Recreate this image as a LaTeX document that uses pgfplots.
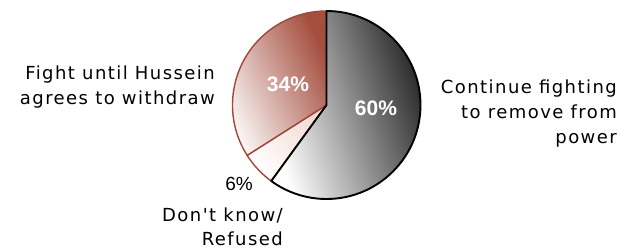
\documentclass[border=0pt]{standalone}
\usepackage{pgfplots}
\pgfplotsset{compat=1.18}
\usepackage{pgfplotstable}
\usepackage{fontspec}
\setmainfont{Liberation Sans}
\newfontfamily\labelfont[LetterSpace=8]{DejaVu Sans}
\pgfplotstableread{
label value
Continue 60
DontKnow 6
Fight 34
}\piedata
\definecolor{redborder}{HTML}{A0463A}
\definecolor{reddark}{HTML}{A44E3E}
\definecolor{redmid}{HTML}{D09A8A}
\definecolor{graydark}{HTML}{282828}
\definecolor{pinklight}{HTML}{F2DAD2}
\begin{document}
\begin{tikzpicture}
\useasboundingbox (0,0) rectangle (631pt,251pt);
\pgfplotstablegetelem{0}{value}\of\piedata \edef\va{\pgfplotsretval}
\pgfplotstablegetelem{1}{value}\of\piedata \edef\vb{\pgfplotsretval}
\pgfplotstablegetelem{2}{value}\of\piedata \edef\vc{\pgfplotsretval}
\pgfmathsetmacro{\aA}{90-3.6*\va}
\pgfmathsetmacro{\aB}{\aA-3.6*\vb}
\pgfmathsetmacro{\aC}{\aB-3.6*\vc}
\begin{axis}[at={(0,0)},anchor=south west,width=631pt,height=251pt,scale only axis,
  xmin=0,xmax=631,ymin=0,ymax=251,hide axis,clip=false]
\coordinate (C) at (axis cs:326.5,146);
% 6% slice
\path[top color=pinklight, bottom color=white, shading angle=-50]
  (C) -- ++(\aA:94pt) arc[start angle=\aA, end angle=\aB, radius=94pt] -- cycle;
\draw[redborder, line width=1.4pt, line join=round]
  (C) -- ++(\aA:94pt) arc[start angle=\aA, end angle=\aB, radius=94pt] -- cycle;
% 34% slice
\path[top color=reddark, middle color=redmid, bottom color=white, shading angle=-65]
  (C) -- ++(\aB:94pt) arc[start angle=\aB, end angle=\aC, radius=94pt] -- cycle;
\draw[redborder, line width=1.4pt, line join=round]
  (C) -- ++(\aB:94pt) arc[start angle=\aB, end angle=\aC, radius=94pt] -- cycle;
% 60% slice
\path[top color=graydark, bottom color=white, shading angle=-72]
  (C) -- ++(90:94pt) arc[start angle=90, end angle=\aA, radius=94pt] -- cycle;
\draw[black, line width=1.9pt, line join=round]
  (C) -- ++(90:94pt) arc[start angle=90, end angle=\aA, radius=94pt] -- cycle;
% percentages
\node[font=\bfseries\fontsize{21}{21}\selectfont, text=white, inner sep=0pt] at (axis cs:376,143) {\va\%};
\node[font=\bfseries\fontsize{21}{21}\selectfont, text=white, inner sep=0pt] at (axis cs:288,167) {\vc\%};
\node[font=\fontsize{19}{19}\selectfont, text=black, inner sep=0pt] at (axis cs:239,67) {\vb\%};
% labels
\node[font=\labelfont\fontsize{18}{25}\selectfont, align=right, anchor=east, inner sep=0pt]
  at (axis cs:617,137) {Continue fighting\\to remove from\\power};
\node[font=\labelfont\fontsize{18}{25}\selectfont, align=right, anchor=east, inner sep=0pt]
  at (axis cs:215,164) {Fight until Hussein\\agrees to withdraw};
\node[font=\labelfont\fontsize{18}{24}\selectfont, align=right, anchor=east, inner sep=0pt]
  at (axis cs:283,24) {Don't know/\\Refused};
\end{axis}
\end{tikzpicture}
\end{document}
